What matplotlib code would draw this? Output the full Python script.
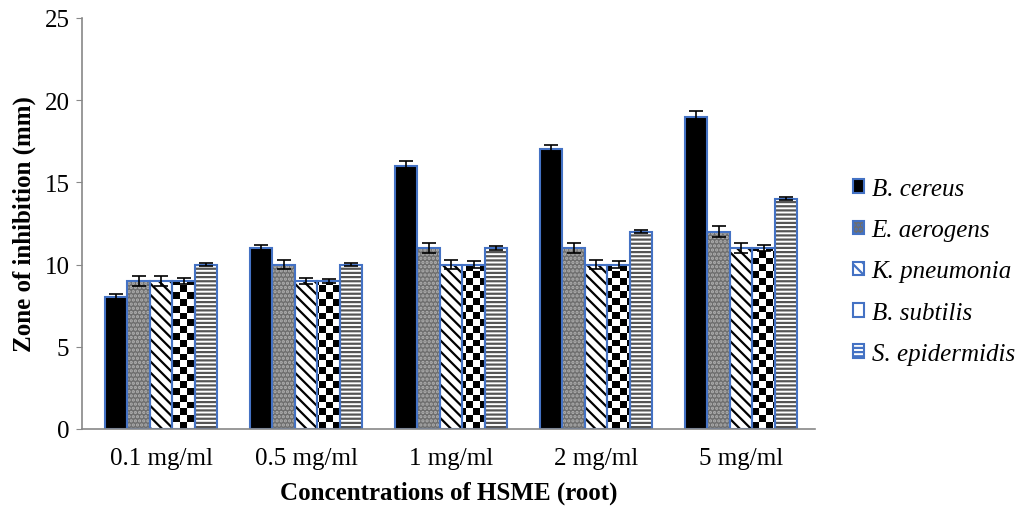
import numpy as np
import matplotlib.pyplot as plt
from matplotlib import font_manager as fm

plt.rcParams['font.family'] = ['Liberation Serif', 'DejaVu Serif']
plt.rcParams['hatch.linewidth'] = 1.6

# data
concentrations = ['0.1 mg/ml', '0.5 mg/ml', '1 mg/ml', '2 mg/ml', '5 mg/ml']
species = ['B. cereus', 'E. aerogens', 'K. pneumonia', 'B. subtilis', 'S. epidermidis']
b_cereus = [8, 11, 16, 17, 19]
e_aerogens = [9, 10, 11, 11, 12]
k_pneumonia = [9, 9, 10, 10, 11]
b_subtilis = [9, 9, 10, 10, 11]
s_epidermidis = [10, 10, 11, 12, 14]
err_b_cereus = [0.2, 0.2, 0.3, 0.3, 0.35]
err_e_aerogens = [0.3, 0.3, 0.3, 0.3, 0.35]
err_k_pneumonia = [0.3, 0.2, 0.3, 0.3, 0.3]
err_b_subtilis = [0.2, 0.15, 0.2, 0.2, 0.2]
err_s_epidermidis = [0.1, 0.1, 0.1, 0.1, 0.1]

series = [b_cereus, e_aerogens, k_pneumonia, b_subtilis, s_epidermidis]
errors = [err_b_cereus, err_e_aerogens, err_k_pneumonia, err_b_subtilis, err_s_epidermidis]
faces = ['black', '#6e6e6e', 'white', 'white', 'white']
hatches = [None, '....', '\\\\\\', None, '----']
hatch_cols = ['black', '#b0b0b0', 'black', 'black', '#555555']
blue = '#4472C4'

# italic serif for the legend
ital = [f.fname for f in fm.fontManager.ttflist
        if f.name == 'Liberation Serif' and f.style == 'italic' and f.weight == 400]
if ital:
    leg_font = fm.FontProperties(fname=ital[0], size=18)
else:
    leg_font = fm.FontProperties(family='TeX Gyre Termes', style='italic', size=18)

fig = plt.figure(figsize=(10.16, 5.1), dpi=100)
ax = fig.add_axes([0.0807, 0.1569, 0.7215, 0.806])
ax.set_xlim(-0.545, 4.51)
ax.set_ylim(0, 25)

# checkerboard texture for B. subtilis
checker = (np.indices((60, 105)).sum(axis=0) % 2).astype(float)

x = np.arange(len(concentrations))
w = 0.155
handles = []
for i, (vals, errs) in enumerate(zip(series, errors)):
    pos = x + (i - 2) * w
    ax.bar(pos, vals, width=w, color=faces[i], hatch=hatches[i],
           edgecolor=hatch_cols[i], linewidth=0)
    outline = ax.bar(pos, vals, width=w, fill=False, edgecolor=blue,
                     linewidth=1.5, zorder=2)
    if i == 3:
        for p in outline.patches:
            im = ax.imshow(checker, cmap='gray_r', extent=(-0.545, 4.51, 0, 25),
                           aspect='auto', interpolation='nearest', zorder=1.5)
            im.set_clip_path(p)
    ax.errorbar(pos, vals, yerr=errs, fmt='none', ecolor='black',
                elinewidth=1.2, capsize=5, capthick=1.2, zorder=3)
    h = plt.Rectangle((0, 0), 1, 1, facecolor=faces[i], hatch=hatches[i],
                      edgecolor=blue, linewidth=1.5)
    handles.append(h)

ax.set_xlim(-0.545, 4.51)
ax.set_ylim(0, 25)
ax.set_yticks([0, 5, 10, 15, 20, 25])
ax.set_xticks(x)
ax.set_xticklabels(concentrations)
ax.tick_params(axis='both', labelsize=18)
ax.tick_params(axis='x', length=0, pad=13)
ax.tick_params(axis='y', length=4, color='#888888', pad=5)
for s in ['top', 'right']:
    ax.spines[s].set_visible(False)
for s in ['left', 'bottom']:
    ax.spines[s].set_color('#888888')
    ax.spines[s].set_linewidth(1.2)

ax.set_ylabel('Zone of inhibition (mm)', fontsize=18, fontweight='bold', labelpad=6)
ax.set_xlabel('Concentrations of HSME (root)', fontsize=18, fontweight='bold', labelpad=8)

fig.legend(handles, species, loc='center left', bbox_to_anchor=(0.8396, 0.4657),
           frameon=False, prop=leg_font,
           handlelength=0.45, handleheight=0.45, handletextpad=0.3,
           labelspacing=0.77, borderpad=0, borderaxespad=0)

fig.savefig('out.png', dpi=100)
